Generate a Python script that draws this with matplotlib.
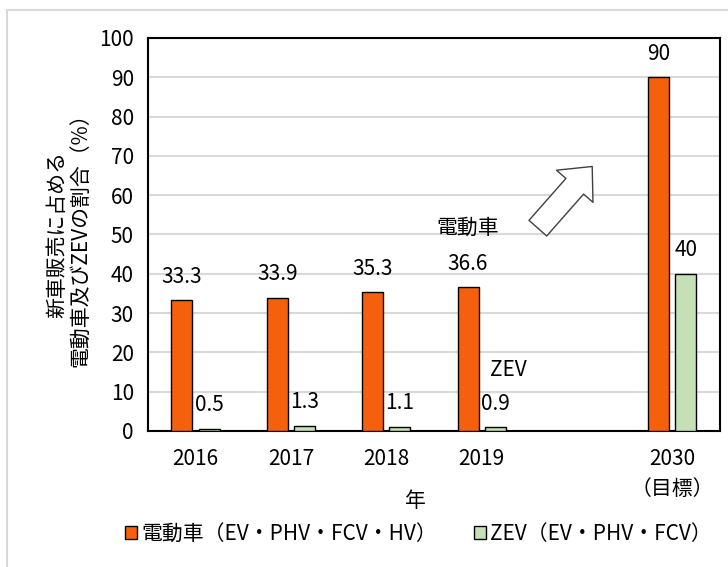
import matplotlib
matplotlib.use("Agg")
import matplotlib.pyplot as plt
import numpy as np
from matplotlib.patches import Patch, Rectangle, FancyArrowPatch

plt.rcParams["font.family"] = ["Noto Sans CJK JP", "DejaVu Sans"]

# data
CATEGORIES = ["2016", "2017", "2018", "2019", "", "2030\n（目標）"]
EV_VALUES = [33.3, 33.9, 35.3, 36.6, np.nan, 90]
ZEV_VALUES = [0.5, 1.3, 1.1, 0.9, np.nan, 40]
EV_NAME = "電動車（EV・PHV・FCV・HV）"
ZEV_NAME = "ZEV（EV・PHV・FCV）"

ORANGE = "#F5600D"
GREEN = "#C5E0B4"
FONT_SIZE = 15


def label_bars(ax, xs, values):
    for x, v in zip(xs, values):
        if np.isnan(v):
            continue
        txt = f"{v:g}" if v >= 10 and float(v).is_integer() else f"{v:.1f}"
        ax.annotate(txt, (x, v), xytext=(0, 9), textcoords="offset points",
                    ha="center", va="bottom", fontsize=FONT_SIZE)


def main():
    fig = plt.figure(figsize=(7.28, 5.67), dpi=100)
    fig.patches.append(Rectangle((0.009, -0.1), 1.2, 1.082, transform=fig.transFigure,
                                 fill=False, ec="#D9D9D9", lw=1.5))
    ax = fig.add_axes([0.203, 0.240, 0.786, 0.693])

    x = np.arange(len(CATEGORIES))
    width = 0.22
    offset = 0.142
    ax.bar(x - offset, EV_VALUES, width, color=ORANGE, edgecolor="black", lw=1, zorder=3)
    ax.bar(x + offset, ZEV_VALUES, width, color=GREEN, edgecolor="black", lw=1, zorder=3)
    label_bars(ax, x - offset, EV_VALUES)
    label_bars(ax, x + offset, ZEV_VALUES)

    ax.set_xlim(-0.5, len(CATEGORIES) - 0.5)
    ax.set_ylim(0, 100)
    ax.set_yticks(range(0, 101, 10))
    ax.set_xticks(x)
    ax.set_xticklabels(CATEGORIES, linespacing=1.5)
    ax.tick_params(axis="both", length=0, labelsize=FONT_SIZE)
    ax.tick_params(axis="x", pad=12)
    ax.tick_params(axis="y", pad=10)
    ax.yaxis.grid(True, color="#D9D9D9", lw=1.5, zorder=0)
    ax.set_axisbelow(True)
    for sp in ax.spines.values():
        sp.set_color("black")
        sp.set_linewidth(1.5)

    ax.set_ylabel("新車販売に占める\n電動車及びZEVの割合（%）", fontsize=FONT_SIZE,
                  labelpad=6, linespacing=1.05)
    ax.set_xlabel("年", fontsize=FONT_SIZE)
    ax.xaxis.set_label_coords(0.467, -0.15)

    ax.text(2.85, 51.7, "電動車", fontsize=FONT_SIZE, ha="center", va="center")
    ax.text(3.28, 15.5, "ZEV", fontsize=FONT_SIZE, ha="center", va="center")

    arrow = FancyArrowPatch((3.59, 51.6), (4.16, 67.3),
                            arrowstyle="simple,head_length=19,head_width=35,tail_width=17",
                            mutation_scale=1, fc="white", ec="#404040", lw=1,
                            shrinkA=0, shrinkB=0, zorder=4)
    ax.add_patch(arrow)

    handles = [Patch(facecolor=ORANGE, edgecolor="black", label=EV_NAME),
               Patch(facecolor=GREEN, edgecolor="black", label=ZEV_NAME)]
    fig.legend(handles=handles, loc="center", bbox_to_anchor=(0.575, 0.058), ncol=2,
               frameon=False, fontsize=FONT_SIZE, handlelength=0.55, handleheight=0.55,
               handletextpad=0.2, columnspacing=1.8)

    fig.savefig("out.png", dpi=100)


if __name__ == "__main__":
    main()
